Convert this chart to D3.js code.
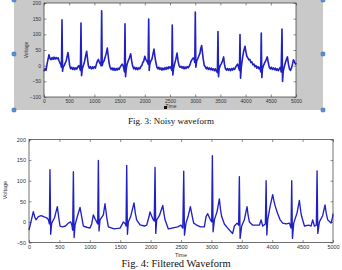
<!DOCTYPE html>
<html><head><meta charset="utf-8">
<script src="https://cdn.jsdelivr.net/npm/d3@7"></script>
<style>body{margin:0;background:#fff}svg{display:block}</style>
</head><body>
<script>
// ---- data ----
const xTickValues = [0,500,1000,1500,2000,2500,3000,3500,4000,4500,5000];
const noisyYTicks = [-100,-50,0,50,100,150,200];
const filteredYTicks = [-50,0,50,100,150,200];

const noisyTime = [0,20,40,60,80,99,120,139,160,180,200,220,240,258,280,300,317,335,347,357,368,380,400,420,440,460,476,495,510,530,550,570,590,610,630,650,670,690,705,722,734,745,760,780,800,825,847,865,880,900,920,940,960,980,1000,1020,1040,1060,1080,1100,1120,1133,1144,1155,1170,1190,1210,1235,1256,1275,1290,1310,1330,1350,1370,1390,1410,1430,1450,1470,1490,1510,1530,1550,1570,1585,1597,1607,1618,1632,1650,1670,1695,1720,1740,1760,1780,1800,1820,1840,1860,1880,1900,1920,1940,1960,1980,2000,2020,2040,2055,2066,2077,2088,2100,2120,2140,2160,2182,2200,2220,2240,2260,2280,2300,2320,2340,2360,2380,2400,2420,2440,2460,2480,2500,2520,2535,2545,2556,2570,2590,2615,2640,2660,2680,2700,2720,2740,2760,2780,2800,2820,2840,2860,2880,2900,2920,2940,2960,2980,2992,3002,3013,3030,3050,3070,3095,3110,3128,3145,3160,3180,3200,3220,3240,3260,3280,3300,3320,3340,3360,3380,3400,3420,3440,3452,3463,3476,3495,3515,3540,3564,3580,3600,3620,3640,3660,3680,3700,3720,3740,3760,3780,3800,3820,3840,3860,3878,3889,3900,3915,3935,3960,3988,4005,4025,4045,4065,4085,4105,4125,4145,4165,4185,4205,4225,4245,4265,4285,4300,4311,4322,4335,4355,4380,4405,4430,4450,4470,4490,4510,4530,4550,4570,4590,4610,4630,4650,4670,4690,4705,4722,4733,4745,4765,4790,4810,4830,4850,4870,4890,4910,4930,4950,4970,4990,5000];
const noisyVoltage = [-18,-10,-15,5,20,35,22,19,26,20,27,21,26,22,25,15,9,2,-5,146,-18,-5,0,8,15,30,42,20,0,-10,-5,-12,-6,-13,-7,-11,-4,0,-6,-15,136,-32,-10,0,10,30,46,20,0,-8,-3,-10,-4,-9,-3,-8,5,15,20,10,5,0,175,0,10,15,25,40,56,30,10,-5,-12,-7,-14,-8,-15,-9,-14,-8,-12,-5,0,5,0,-10,-20,134,-35,-10,5,15,25,38,15,-2,-10,-5,-12,-6,-13,-7,-10,-3,0,10,15,30,20,15,10,5,149,-15,5,15,20,35,53,30,10,-5,-10,-5,-12,-7,-14,-8,-13,-6,-12,-5,-10,-3,-8,-3,-15,130,-30,-10,5,20,40,15,0,-5,-2,-8,-3,-10,-4,-9,-3,-7,-2,5,15,20,25,20,10,171,-5,15,22,30,40,55,64,40,20,0,-3,-10,-5,-12,-7,-13,-8,-14,-10,-16,-10,-18,-22,109,-35,-10,0,5,15,28,5,-10,-14,-9,-15,-10,-16,-9,-14,-8,-12,-5,0,5,-5,-15,99,-40,-5,20,45,62,45,30,25,18,20,10,12,3,5,-3,0,-8,-3,-10,-5,-20,104,-38,-10,0,10,18,28,10,-5,-10,-5,-12,-7,-13,-8,-15,-10,-16,-10,-5,-20,117,-50,-20,-5,10,20,28,5,-10,-15,-8,5,19,12,5,9];

const filteredTime = [0,40,71,95,115,154,200,250,291,320,335,345,357,373,420,445,466,490,510,550,600,647,686,705,718,730,742,757,795,839,870,894,950,1003,1031,1058,1085,1097,1130,1141,1152,1168,1223,1250,1280,1305,1400,1497,1525,1552,1585,1596,1607,1619,1634,1672,1727,1750,1771,1826,1900,1936,1974,1990,2034,2060,2073,2085,2100,2144,2200,2220,2237,2292,2350,2446,2500,2530,2545,2557,2582,2620,2654,2690,2709,2750,2820,2884,2912,2939,2983,3005,3016,3028,3049,3093,3131,3150,3169,3213,3268,3310,3350,3378,3422,3448,3460,3472,3498,3542,3586,3605,3625,3680,3789,3817,3844,3888,3900,3912,3926,3965,4008,4030,4052,4091,4130,4173,4230,4283,4310,4321,4333,4354,4409,4447,4470,4485,4530,4600,4639,4666,4694,4726,4738,4750,4776,4830,4869,4890,4913,4968,4995,5000];
const filteredVoltage = [-20,5,25,12,5,13,15,12,10,5,-5,127,-30,-3,10,25,37,10,-10,-12,-10,-3,0,-8,-20,122,-38,-8,13,35,10,-10,-13,-15,-5,17,8,5,-5,149,-22,5,17,44,10,-12,-17,-15,-8,0,-5,-10,137,-30,0,13,46,20,5,-7,-10,-8,13,24,8,2,132,-28,5,15,40,20,5,-17,-15,-12,-8,-15,123,-32,-3,15,37,10,-3,-7,-12,-12,13,20,5,0,161,-24,5,25,56,30,13,-5,-15,-22,-28,-10,-3,-8,110,-40,-10,5,37,15,0,-8,-8,5,-10,-5,100,-32,5,37,66,50,37,20,5,-3,-5,-3,-15,100,-40,-3,22,52,25,13,-10,-8,-10,5,-10,-8,124,-28,0,15,41,20,5,-3,13,20];

const lineColor = "#2020c4";

const svg = d3.select("body").append("svg").attr("width",342).attr("height",270);

// top panel background (figure window gray)
svg.append("rect").attr("x",14).attr("y",-2).attr("width",309).attr("height",112).attr("fill","#c9c9c9");

function drawChart(cfg){
  const x = d3.scaleLinear().domain([0,5000]).range([cfg.left,cfg.right]);
  const y = d3.scaleLinear().domain(cfg.yDomain).range([cfg.bottom,cfg.top]);
  const g = svg.append("g");
  g.append("rect").attr("x",cfg.left).attr("y",cfg.top).attr("width",cfg.right-cfg.left).attr("height",cfg.bottom-cfg.top).attr("fill","#fff");
  const tl = 2.5;
  const fs = cfg.fs;
  const ax = g.append("g").attr("transform",`translate(0,${cfg.bottom})`)
    .call(d3.axisBottom(x).tickValues(xTickValues).tickSize(-tl).tickPadding(2.5).tickFormat(d3.format("d")));
  ax.select(".domain").remove();
  ax.selectAll("text").attr("font-size",fs).attr("font-family","Liberation Sans, Arial, sans-serif").attr("fill","#333");
  const axt = g.append("g").attr("transform",`translate(0,${cfg.top})`)
    .call(d3.axisTop(x).tickValues(xTickValues).tickSize(-tl).tickFormat(""));
  axt.select(".domain").remove();
  const ay = g.append("g").attr("transform",`translate(${cfg.left},0)`)
    .call(d3.axisLeft(y).tickValues(cfg.yTicks).tickSize(-tl).tickPadding(3).tickFormat(d3.format("d")));
  ay.select(".domain").remove();
  ay.selectAll("text").attr("font-size",fs).attr("font-family","Liberation Sans, Arial, sans-serif").attr("fill","#333");
  const ayr = g.append("g").attr("transform",`translate(${cfg.right},0)`)
    .call(d3.axisRight(y).tickValues(cfg.yTicks).tickSize(-tl).tickFormat(""));
  ayr.select(".domain").remove();
  g.selectAll(".tick line").attr("stroke","#444").attr("stroke-width",0.6);
  const pts = cfg.time.map((t,i)=>[t,cfg.volt[i]]);
  g.append("path").datum(pts)
    .attr("d",d3.line().x(d=>x(d[0])).y(d=>y(d[1])))
    .attr("fill","none").attr("stroke",lineColor).attr("stroke-width",cfg.sw).attr("stroke-linejoin","round");
  g.append("rect").attr("x",cfg.left).attr("y",cfg.top).attr("width",cfg.right-cfg.left).attr("height",cfg.bottom-cfg.top)
    .attr("fill","none").attr("stroke","#333").attr("stroke-width",0.7);
  g.append("text").attr("x",cfg.timeX).attr("y",cfg.timeY).attr("text-anchor","middle")
    .attr("font-size",fs).attr("font-family","Liberation Sans, Arial, sans-serif").attr("fill","#333").text("Time");
  g.append("text").attr("transform",`translate(${cfg.voltX},${cfg.voltY}) rotate(-90)`).attr("text-anchor","middle")
    .attr("font-size",fs).attr("font-family","Liberation Sans, Arial, sans-serif").attr("fill","#333").text("Voltage");
}

drawChart({left:44,right:296,top:3,bottom:97,yDomain:[-100,200],yTicks:noisyYTicks,
  time:noisyTime,volt:noisyVoltage,sw:1.6,fs:5,timeX:171,timeY:108,voltX:28,voltY:50});
drawChart({left:29,right:333,top:139.5,bottom:242.5,yDomain:[-50,200],yTicks:filteredYTicks,
  time:filteredTime,volt:filteredVoltage,sw:1.35,fs:5.5,timeX:181,timeY:257,voltX:7,voltY:190});

const handles = [[14,0],[14,54],[14,110],[323,0],[323,54],[323,110]];
svg.selectAll(".h").data(handles).enter().append("rect")
  .attr("x",d=>d[0]-2).attr("y",d=>d[1]-2).attr("width",4).attr("height",4).attr("rx",1)
  .attr("fill","#5b8fd6").attr("stroke","#3a6db5").attr("stroke-width",0.5);
svg.append("rect").attr("x",164).attr("y",106).attr("width",3).attr("height",3).attr("fill","#111");

svg.append("text").attr("x",171).attr("y",124).attr("text-anchor","middle")
  .attr("font-family","Liberation Serif, Times New Roman, serif").attr("font-size",9).attr("fill","#111").text("Fig. 3: Noisy waveform");
svg.append("text").attr("x",176).attr("y",267).attr("text-anchor","middle")
  .attr("font-family","Liberation Serif, Times New Roman, serif").attr("font-size",10.5).attr("fill","#111").text("Fig. 4: Filtered Waveform");
</script>
</body></html>
